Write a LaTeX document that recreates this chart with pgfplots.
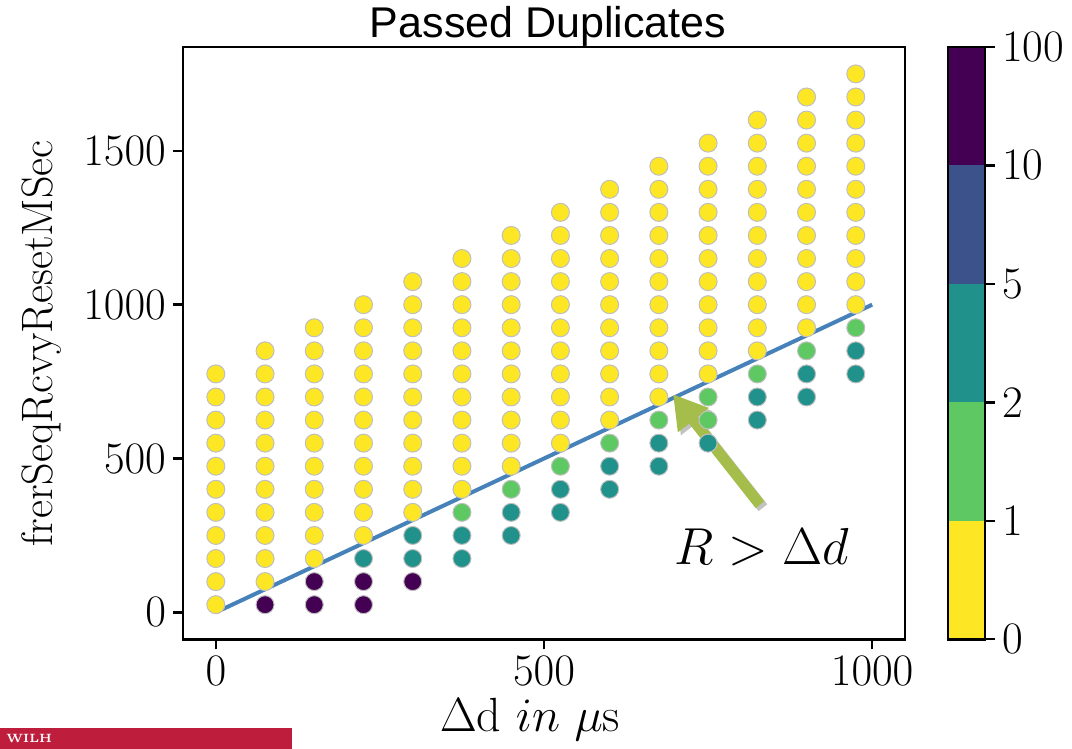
\RequirePackage{fix-cm}
\documentclass[border=0pt]{standalone}
\usepackage{fontspec}
\usepackage{pgfplots}
\pgfplotsset{compat=1.18}
\usetikzlibrary{arrows.meta}
\newfontfamily\titlefont{Liberation Sans}

\definecolor{vyellow}{RGB}{253,231,37}
\definecolor{vgreen}{RGB}{94,201,98}
\definecolor{vteal}{RGB}{33,145,140}
\definecolor{vblue}{RGB}{59,82,139}
\definecolor{vpurple}{RGB}{68,1,84}
\definecolor{linecol}{RGB}{70,130,185}
\definecolor{arrowgreen}{RGB}{165,190,75}
\definecolor{logored}{RGB}{190,30,60}

% passed duplicates per (delta d, R) point, split by colour class
\pgfplotstableread{
x y
0 25
0 100
0 175
0 250
0 325
0 400
0 475
0 550
0 625
0 700
0 775
75 100
75 175
75 250
75 325
75 400
75 475
75 550
75 625
75 700
75 775
75 850
150 175
150 250
150 325
150 400
150 475
150 550
150 625
150 700
150 775
150 850
150 925
225 250
225 325
225 400
225 475
225 550
225 625
225 700
225 775
225 850
225 925
225 1000
300 325
300 400
300 475
300 550
300 625
300 700
300 775
300 850
300 925
300 1000
300 1075
375 400
375 475
375 550
375 625
375 700
375 775
375 850
375 925
375 1000
375 1075
375 1150
450 475
450 550
450 625
450 700
450 775
450 850
450 925
450 1000
450 1075
450 1150
450 1225
525 550
525 625
525 700
525 775
525 850
525 925
525 1000
525 1075
525 1150
525 1225
525 1300
600 625
600 700
600 775
600 850
600 925
600 1000
600 1075
600 1150
600 1225
600 1300
600 1375
675 700
675 775
675 850
675 925
675 1000
675 1075
675 1150
675 1225
675 1300
675 1375
675 1450
750 775
750 850
750 925
750 1000
750 1075
750 1150
750 1225
750 1300
750 1375
750 1450
750 1525
825 850
825 925
825 1000
825 1075
825 1150
825 1225
825 1300
825 1375
825 1450
825 1525
825 1600
900 925
900 1000
900 1075
900 1150
900 1225
900 1300
900 1375
900 1450
900 1525
900 1600
900 1675
975 1000
975 1075
975 1150
975 1225
975 1300
975 1375
975 1450
975 1525
975 1600
975 1675
975 1750
}\zerodup

\pgfplotstableread{
x y
375 325
450 400
525 475
600 550
675 625
750 625
750 700
825 775
900 850
975 925
}\onetwodup

\pgfplotstableread{
x y
225 175
300 175
300 250
375 175
375 250
450 250
450 325
525 325
525 400
600 400
600 475
675 475
675 550
750 550
825 625
825 700
900 700
900 775
975 775
975 850
}\twofivedup

\pgfplotstableread{
x y
75 25
150 25
150 100
225 25
225 100
300 100
}\manydup

\begin{document}
\begin{tikzpicture}
\useasboundingbox (0pt,0pt) rectangle (536pt,374.5pt);
\fill[logored] (0pt,0pt) rectangle (146pt,10.5pt);
\node[white, anchor=west, inner sep=0pt, font=\bfseries\fontsize{6}{6}\selectfont] at (3pt,5.5pt) {WILH};

\begin{axis}[
    at={(91.5pt,54.85pt)}, anchor=south west,
    scale only axis, width=361pt, height=296.15pt,
    xmin=-50, xmax=1050, ymin=-87.5, ymax=1837.5,
    xtick={0,500,1000}, ytick={0,500,1000,1500},
    xtick pos=bottom, ytick pos=left,
    tick align=outside, major tick length=5pt,
    axis line style={line width=1.4pt},
    every tick/.style={black, line width=1.2pt},
    tick label style={font=\fontsize{22.5}{27}\selectfont},
    scaled ticks=false,
    /pgf/number format/1000 sep={},
]
\addplot[only marks, mark=*, mark size=4.5pt,
    mark options={draw=black!25, fill=vyellow, line width=0.5pt}] table {\zerodup};
\addplot[only marks, mark=*, mark size=4.5pt,
    mark options={draw=black!25, fill=vgreen, line width=0.5pt}] table {\onetwodup};
\addplot[only marks, mark=*, mark size=4.5pt,
    mark options={draw=black!25, fill=vteal, line width=0.5pt}] table {\twofivedup};
\addplot[only marks, mark=*, mark size=4.5pt,
    mark options={draw=black!25, fill=vpurple, line width=0.5pt}] table {\manydup};

% R = delta d
\addplot[linecol, line width=2pt] coordinates {(0,0) (1000,1000)};

\draw[black!40, opacity=0.6, line width=5.5pt, shift={(1.5pt,-1.5pt)},
    -{Triangle[width=18.5pt,length=16.5pt]}] (axis cs:829,350) -- (axis cs:696.5,709);
\draw[arrowgreen, line width=5.5pt,
    -{Triangle[width=18.5pt,length=16.5pt]}] (axis cs:829,350) -- (axis cs:696.5,709);
\node[anchor=base, font=\fontsize{26}{30}\selectfont] at (axis cs:832,154) {$R > \Delta d$};
\end{axis}

% colour bar
\begin{axis}[
    at={(474pt,54.85pt)}, anchor=south west,
    scale only axis, width=18.5pt, height=296.15pt,
    xmin=0, xmax=1, ymin=0, ymax=5,
    xtick=\empty, ytick={0,1,2,3,4,5},
    yticklabels={0,1,2,5,10,100},
    ytick pos=right, yticklabel pos=right,
    tick align=outside, major tick length=5pt,
    axis line style={line width=1.4pt},
    every tick/.style={black, line width=1.2pt},
    tick label style={font=\fontsize{22.5}{27}\selectfont},
    axis on top,
]
\addplot[draw=none, fill=vyellow] coordinates {(0,0) (1,0) (1,1) (0,1)};
\addplot[draw=none, fill=vgreen] coordinates {(0,1) (1,1) (1,2) (0,2)};
\addplot[draw=none, fill=vteal] coordinates {(0,2) (1,2) (1,3) (0,3)};
\addplot[draw=none, fill=vblue] coordinates {(0,3) (1,3) (1,4) (0,4)};
\addplot[draw=none, fill=vpurple] coordinates {(0,4) (1,4) (1,5) (0,5)};
\end{axis}

\node[anchor=base, font=\titlefont\fontsize{21.5}{25}\selectfont] at (274pt,355.5pt) {Passed Duplicates};
\node[rotate=90, anchor=base, font=\fontsize{22}{26}\selectfont] at (26pt,202.75pt) {frerSeqRcvyResetMSec};
\node[anchor=base, font=\fontsize{24}{28}\selectfont] at (265pt,8.5pt) {$\Delta$d $in$ $\mu$s};
\end{tikzpicture}
\end{document}
